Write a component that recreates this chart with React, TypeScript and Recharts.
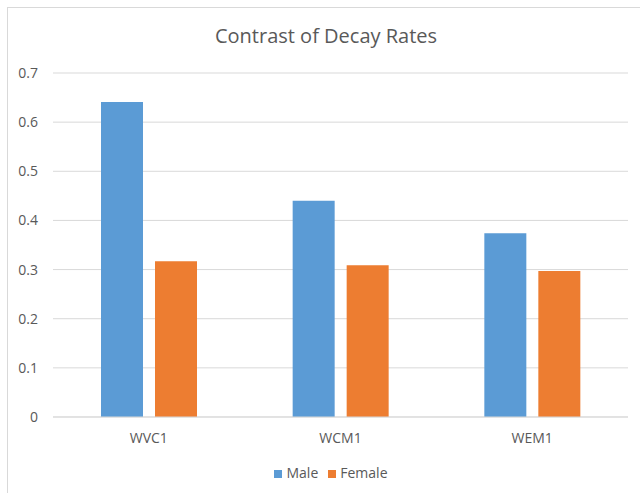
import { Bar, BarChart, CartesianGrid, Legend, XAxis, YAxis } from "recharts";

const categories = ["WVC1", "WCM1", "WEM1"];
const maleRates = [0.641, 0.44, 0.374];
const femaleRates = [0.317, 0.309, 0.297];
const yTicks = [0, 0.1, 0.2, 0.3, 0.4, 0.5, 0.6, 0.7];
const seriesOrder = ["Male", "Female"];

const data = categories.map((name, i) => ({ name, Male: maleRates[i], Female: femaleRates[i] }));

const textColor = "#595959";
const gridColor = "#d9d9d9";
const font = "'Open Sans', sans-serif";

function App() {
  return (
    <div style={{ position: "absolute", left: 0, top: 0, width: 640, height: 493, overflow: "hidden", background: "#fff" }}>
      <div
        style={{
          position: "absolute",
          left: 7,
          top: 7,
          width: 700,
          height: 600,
          borderLeft: `1px solid ${gridColor}`,
          borderTop: `1px solid ${gridColor}`,
        }}
      />
      <div
        style={{
          position: "absolute",
          left: 0,
          top: 26,
          width: 652,
          textAlign: "center",
          fontFamily: font,
          fontSize: 20,
          lineHeight: "20px",
          color: textColor,
        }}
      >
        Contrast of Decay Rates
      </div>
      <BarChart
        width={640}
        height={493}
        data={data}
        margin={{ top: 73, right: 12, left: 0, bottom: 6 }}
        barSize={42}
        barGap={12}
      >
        <CartesianGrid vertical={false} stroke={gridColor} />
        <XAxis
          dataKey="name"
          height={46}
          tickLine={false}
          tickMargin={10}
          axisLine={{ stroke: gridColor }}
          tick={{ fill: textColor, fontSize: 14, fontFamily: font }}
        />
        <YAxis
          width={53}
          domain={[0, 0.7]}
          ticks={yTicks}
          axisLine={false}
          tickLine={false}
          tickMargin={9}
          tick={{ fill: textColor, fontSize: 14, fontFamily: font }}
        />
        <Legend
          verticalAlign="bottom"
          height={24}
          iconType="square"
          iconSize={8}
          itemSorter={(item) => seriesOrder.indexOf(String(item.value))}
          wrapperStyle={{ fontFamily: font, fontSize: 14, left: 22 }}
          formatter={(value) => <span style={{ color: textColor }}>{value}</span>}
        />
        <Bar dataKey="Male" fill="#5b9bd5" isAnimationActive={false} />
        <Bar dataKey="Female" fill="#ed7d31" isAnimationActive={false} />
      </BarChart>
    </div>
  );
}

export default App;
